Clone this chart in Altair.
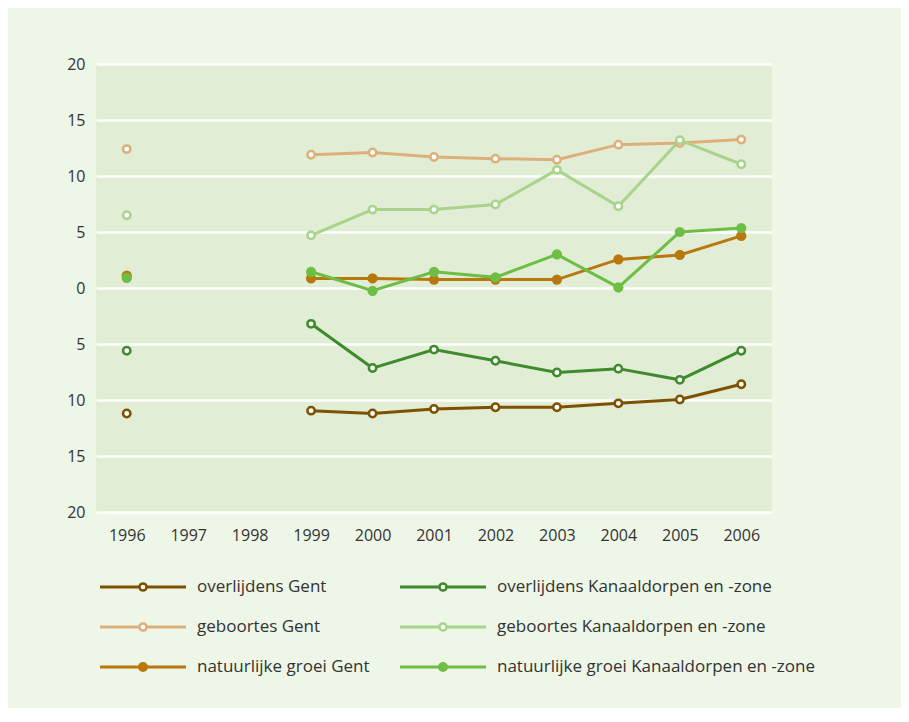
import altair as alt
import pandas as pd

years = [1996, 1997, 1998, 1999, 2000, 2001, 2002, 2003, 2004, 2005, 2006]

series_names = [
    "overlijdens Gent",
    "overlijdens Kanaaldorpen en -zone",
    "geboortes Gent",
    "geboortes Kanaaldorpen en -zone",
    "natuurlijke groei Gent",
    "natuurlijke groei Kanaaldorpen en -zone",
]
series_colors = ["#7E5100", "#3F8A2D", "#DDB07B", "#A8D48C", "#B7790D", "#6EBE45"]
filled_series = ["natuurlijke groei Gent", "natuurlijke groei Kanaaldorpen en -zone"]

overlijdens_gent = [-11.2, None, None, -10.95, -11.2, -10.8, -10.65, -10.65, -10.3, -9.95, -8.6]
overlijdens_kanaal = [-5.6, None, None, -3.2, -7.15, -5.5, -6.5, -7.55, -7.2, -8.2, -5.6]
geboortes_gent = [12.4, None, None, 11.9, 12.1, 11.7, 11.55, 11.45, 12.8, 12.95, 13.25]
geboortes_kanaal = [6.5, None, None, 4.7, 7.0, 7.0, 7.45, 10.55, 7.3, 13.2, 11.05]
groei_gent = [1.1, None, None, 0.85, 0.85, 0.75, 0.75, 0.75, 2.55, 2.95, 4.65]
groei_kanaal = [0.9, None, None, 1.45, -0.25, 1.45, 0.95, 3.0, 0.05, 5.0, 5.35]

values = [overlijdens_gent, overlijdens_kanaal, geboortes_gent,
          geboortes_kanaal, groei_gent, groei_kanaal]

rows = []
for name, vals in zip(series_names, values):
    for y, v in zip(years, vals):
        if v is None:
            continue
        rows.append({"series": name, "year": str(y), "value": v,
                     "seg": 0 if y == 1996 else 1,
                     "filled": name in filled_series})
df = pd.DataFrame(rows)

leg = pd.DataFrame({
    "series": series_names,
    "col": [i % 2 for i in range(len(series_names))],
    "row": [i // 2 for i in range(len(series_names))],
    "filled": [n in filled_series for n in series_names],
})

FONT = "Open Sans"
TXT = "#333333"

color = alt.Color("series:N", scale=alt.Scale(domain=series_names, range=series_colors), legend=None)

x = alt.X("year:O", scale=alt.Scale(domain=[str(y) for y in years], paddingOuter=0.5, paddingInner=0),
          axis=alt.Axis(title=None, labelAngle=0, ticks=False, domain=False, grid=False,
                        labelFont=FONT, labelFontSize=16, labelColor=TXT, labelPadding=15))
y = alt.Y("value:Q", scale=alt.Scale(domain=[-20, 20], nice=False),
          axis=alt.Axis(title=None, values=list(range(-20, 21, 5)), labelExpr="abs(datum.value)",
                        ticks=False, domain=False, grid=True, gridColor="white", gridWidth=2.5,
                        labelFont=FONT, labelFontSize=16, labelColor=TXT, labelPadding=11))

base = alt.Chart(df)
lines = base.mark_line(strokeWidth=3).encode(x=x, y=y, color=color, detail="seg:N")
hollow = base.transform_filter("!datum.filled").mark_point(
    filled=False, fill="white", fillOpacity=1, size=55, strokeWidth=2.5, opacity=1
).encode(x=x, y=y, color=color)
solid = base.transform_filter("datum.filled").mark_circle(size=105, opacity=1).encode(x=x, y=y, color=color)

main = alt.layer(lines, hollow, solid)

lx = alt.X("col:Q", scale=alt.Scale(domain=[0, 1], range=[4, 304]), axis=None)
ly = alt.Y("row:Q", scale=alt.Scale(domain=[0, 2], range=[523, 603]), axis=None)
lbase = alt.Chart(leg)
lrule = lbase.mark_rule(strokeWidth=3, x2Offset=86).encode(x=lx, x2="col", y=ly, color=color)
lhollow = lbase.transform_filter("!datum.filled").mark_point(
    filled=False, fill="white", fillOpacity=1, size=50, strokeWidth=2.5, opacity=1, xOffset=43
).encode(x=lx, y=ly, color=color)
lsolid = lbase.transform_filter("datum.filled").mark_circle(size=100, opacity=1, xOffset=43).encode(
    x=lx, y=ly, color=color)
ltext = lbase.mark_text(align="left", baseline="middle", dx=97, font=FONT, fontSize=17, color=TXT).encode(
    x=lx, y=ly, text="series:N")
legend = alt.layer(lrule, lhollow, lsolid, ltext)

chart = alt.layer(main, legend).resolve_scale(x="independent", y="independent").properties(
    width=676, height=448,
    autosize=alt.AutoSizeParams(type="none"),
    padding={"left": 88, "top": 56, "right": 129, "bottom": 196},
    background="#EEF6E7",
).configure_view(fill="#E1EED5", stroke=None)

chart.save("out.html", embed_options={"renderer": "svg", "actions": False})
